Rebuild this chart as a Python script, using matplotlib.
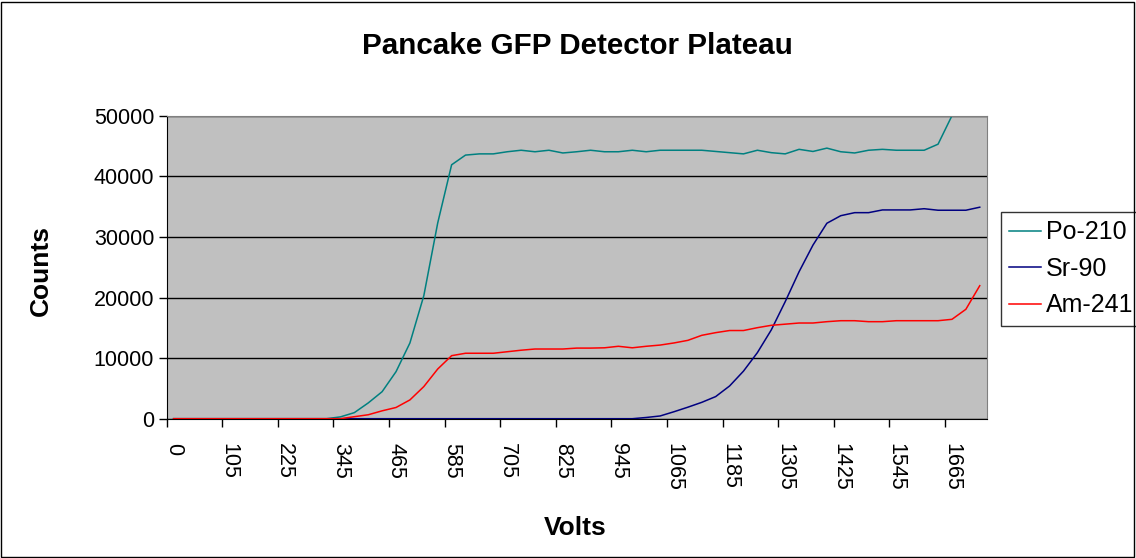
import numpy as np
import matplotlib.pyplot as plt
from matplotlib.patches import Rectangle

plt.rcParams['font.family'] = ['Liberation Sans', 'DejaVu Sans']

volts = [0] + list(range(15, 1726, 30))

nan = np.nan
po210 = [0, 0, 0, 0, 0, 0, 0, 0, 0, 0, 0, 0, 300, 1000, 2600, 4460, 7760, 12500,
         20300, 32300, 41900, 43500, 43700, 43700, 44050, 44300, 44050, 44300,
         43850, 44050, 44300, 44050, 44050, 44300, 44050, 44300, 44300, 44300,
         44300, 44100, 43900, 43700, 44300, 43900, 43700, 44450, 44100, 44650,
         44050, 43850, 44300, 44450, 44300, 44300, 44300, 45300, 50000, nan, nan]
sr90 = [0] * 34 + [200, 450, 1150, 1900, 2700, 3650, 5400, 7850, 10900, 14650,
                   19300, 24250, 28650, 32250, 33500, 34000, 34000, 34450, 34450,
                   34450, 34650, 34400, 34400, 34400, 34900]
am241 = [0] * 13 + [330, 650, 1300, 1850, 3100, 5300, 8200, 10400, 10800, 10800,
                    10800, 11050, 11300, 11500, 11500, 11500, 11650, 11650, 11700,
                    11950, 11700, 11950, 12150, 12500, 12930, 13760, 14200, 14550,
                    14550, 15020, 15410, 15600, 15790, 15790, 16010, 16170, 16170,
                    16010, 16010, 16170, 16170, 16170, 16170, 16400, 18050, 21950]

W, H = 1136, 558
fig = plt.figure(figsize=(W / 100, H / 100), dpi=100)
fig.patches.append(Rectangle((1 / W, 1 / H), 1 - 3 / W, 1 - 3 / H, transform=fig.transFigure,
                             fill=False, edgecolor='black', linewidth=1))

left, right, top, bottom = 166.7, 986.7, 115.7, 418.7
ax = fig.add_axes([left / W, 1 - bottom / H, (right - left) / W, (bottom - top) / H])
ax.set_facecolor('#C0C0C0')

x = np.arange(len(volts))
ax.plot(x, po210, color='#008080', lw=1.1, label='Po-210')
ax.plot(x, sr90, color='#000080', lw=1.1, label='Sr-90')
ax.plot(x, am241, color='#FF0000', lw=1.1, label='Am-241')

ax.set_xlim(-0.5, len(volts) - 0.5)
ax.set_ylim(0, 50000)
ax.set_yticks(range(0, 50001, 10000))
ax.yaxis.grid(True, color='black', lw=1)
ax.set_axisbelow(True)
ax.tick_params(axis='y', direction='out', length=6, width=1, pad=3, labelsize=15.5)

lab = x[::4]
ax.set_xticks(lab)
ax.set_xticklabels([str(volts[i]) for i in lab], rotation=-90, va='top', ha='center')
ax.set_xticks(np.arange(-0.5, len(volts) - 1, 4), minor=True)
ax.tick_params(axis='x', which='major', length=0, pad=17.5, labelsize=15.5)
ax.tick_params(axis='x', which='minor', direction='out', length=6, width=1)

for s in ['top', 'right']:
    ax.spines[s].set_color('#808080')
for s in ['left', 'bottom']:
    ax.spines[s].set_color('black')

fig.text(577 / W, 1 - 46 / H, 'Pancake GFP Detector Plateau', ha='center', va='center',
         fontsize=21.3, fontweight='bold')
fig.text(41 / W, 1 - 270 / H, 'Counts', ha='center', va='center', rotation=90,
         fontsize=19, fontweight='bold')
fig.text(575 / W, 1 - 528 / H, 'Volts', ha='center', va='center',
         fontsize=19, fontweight='bold')

leg = ax.legend(loc='upper left', bbox_to_anchor=(1000.7 / W, 1 - 211.7 / H),
                bbox_transform=fig.transFigure, fontsize=18, frameon=True,
                fancybox=False, borderaxespad=0, handlelength=1.25, handletextpad=0.2,
                labelspacing=0.5, borderpad=0.35)
leg.get_frame().set_edgecolor('black')
leg.get_frame().set_linewidth(1)

fig.savefig('out.png', dpi=100)
